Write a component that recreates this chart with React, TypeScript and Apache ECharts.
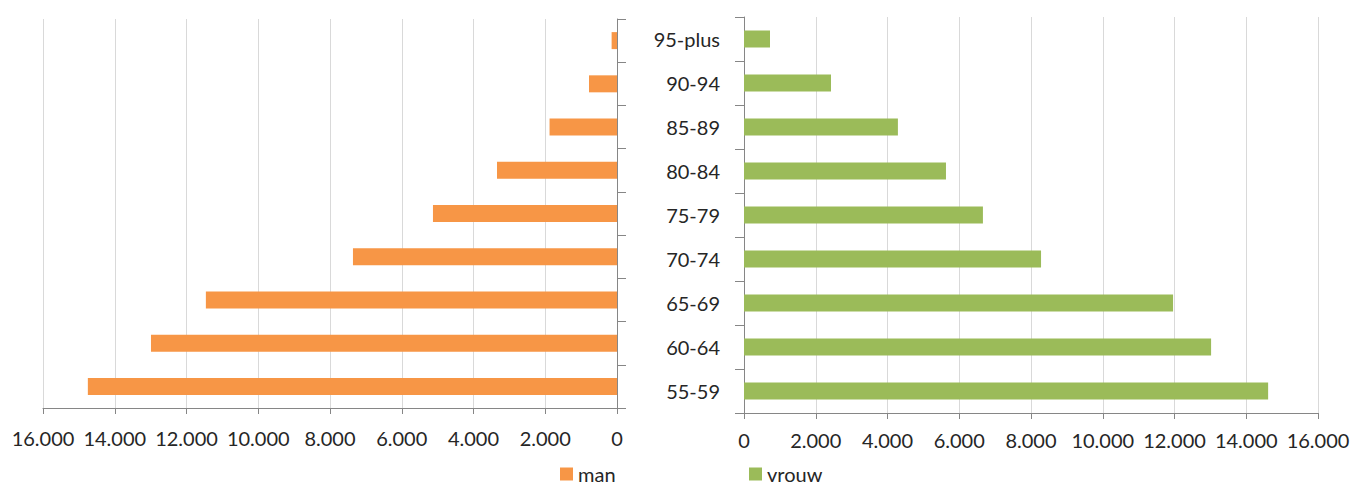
import React, { useEffect, useRef } from "react";
import * as echarts from "echarts";

const categories = ["55-59", "60-64", "65-69", "70-74", "75-79", "80-84", "85-89", "90-94", "95-plus"];
const manValues = [14750, 12990, 11460, 7360, 5130, 3345, 1880, 780, 150];
const vrouwValues = [14610, 13020, 11960, 8280, 6660, 5630, 4290, 2425, 725];
const axisMax = 16000;
const axisStep = 2000;

const fmt = (v: number) => {
  if (v < 1000) return String(v);
  const th = Math.floor(v / 1000);
  const rest = String(v % 1000).padStart(3, "0");
  return `${th}.${rest}`;
};

const FONT = "Lato, 'Open Sans', sans-serif";
const TXT = "#262626";
const AXIS = "#868686";
const GRID = "#d9d9d9";

export default function App() {
  const ref = useRef<HTMLDivElement>(null);
  useEffect(() => {
    if (!ref.current) return;
    const chart = echarts.init(ref.current, undefined, { renderer: "svg" });
    const legendText = { fontFamily: FONT, fontSize: 20, color: TXT, lineHeight: 20 };
    chart.setOption({
      animation: false,
      backgroundColor: "#ffffff",
      textStyle: { fontFamily: FONT },
      grid: [
        { left: 43, right: 1356 - 617, top: 19, bottom: 485 - 408 },
        { left: 744, right: 1356 - 1318, top: 17, bottom: 485 - 413 },
      ],
      legend: [
        {
          data: ["man"],
          left: 560,
          top: 464,
          padding: 0,
          icon: "rect",
          itemWidth: 13,
          itemHeight: 13,
          textStyle: legendText,
        },
        {
          data: ["vrouw"],
          left: 749,
          top: 464,
          padding: 0,
          icon: "rect",
          itemWidth: 13,
          itemHeight: 13,
          textStyle: legendText,
        },
      ],
      xAxis: [
        {
          type: "value",
          gridIndex: 0,
          inverse: true,
          min: 0,
          max: axisMax,
          interval: axisStep,
          axisLine: { show: true, lineStyle: { color: AXIS } },
          axisTick: { show: true, length: 6, lineStyle: { color: AXIS } },
          splitLine: { show: true, lineStyle: { color: GRID } },
          axisLabel: { formatter: fmt, fontFamily: FONT, fontSize: 20, color: TXT, margin: 20 },
        },
        {
          type: "value",
          gridIndex: 1,
          min: 0,
          max: axisMax,
          interval: axisStep,
          axisLine: { show: true, lineStyle: { color: AXIS } },
          axisTick: { show: true, length: 6, lineStyle: { color: AXIS } },
          splitLine: { show: true, lineStyle: { color: GRID } },
          axisLabel: { formatter: fmt, fontFamily: FONT, fontSize: 20, color: TXT, margin: 17 },
        },
      ],
      yAxis: [
        {
          type: "category",
          gridIndex: 0,
          position: "right",
          data: categories,
          axisLine: { show: true, lineStyle: { color: AXIS } },
          axisTick: { show: true, length: 9, lineStyle: { color: AXIS } },
          axisLabel: { show: false },
          splitLine: { show: false },
        },
        {
          type: "category",
          gridIndex: 1,
          position: "left",
          data: categories,
          axisLine: { show: true, lineStyle: { color: AXIS } },
          axisTick: { show: true, length: 9, lineStyle: { color: AXIS } },
          axisLabel: { fontFamily: FONT, fontSize: 20, color: TXT, margin: 24 },
          splitLine: { show: false },
        },
      ],
      series: [
        {
          name: "man",
          type: "bar",
          xAxisIndex: 0,
          yAxisIndex: 0,
          data: manValues,
          barWidth: 17,
          itemStyle: { color: "#F79646" },
        },
        {
          name: "vrouw",
          type: "bar",
          xAxisIndex: 1,
          yAxisIndex: 1,
          data: vrouwValues,
          barWidth: 17,
          itemStyle: { color: "#9BBB59" },
        },
      ],
    });
    return () => chart.dispose();
  }, []);
  return (
    <div
      ref={ref}
      style={{ position: "fixed", left: 0, top: 0, width: 1356, height: 485 }}
    />
  );
}
